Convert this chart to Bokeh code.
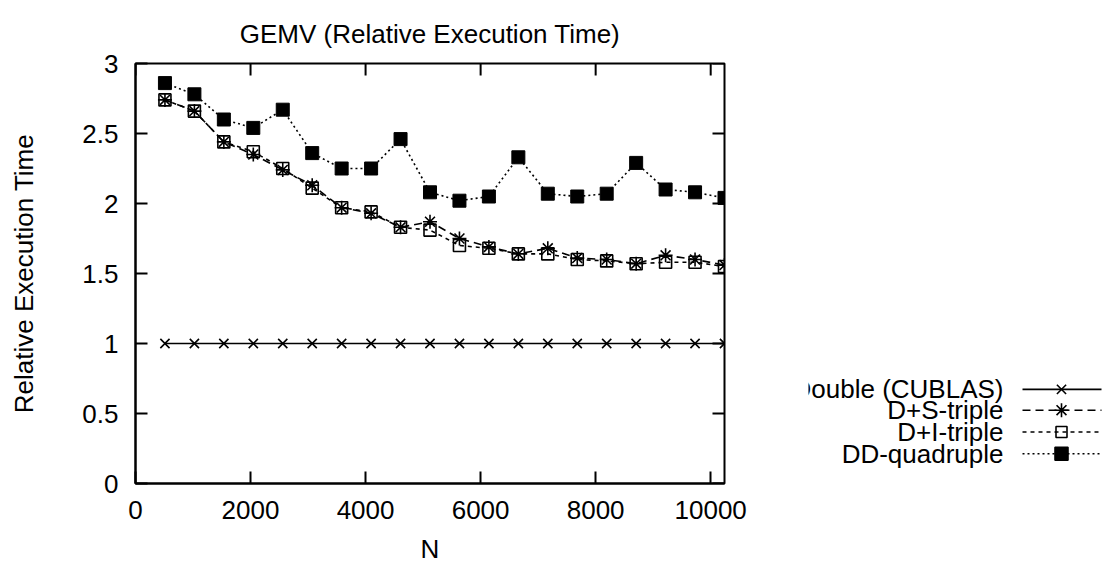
import math
from bokeh.plotting import figure
from bokeh.layouts import row
from bokeh.models import Range1d, FixedTicker, ColumnDataSource
from bokeh.core.properties import value
from bokeh.embed import file_html
from bokeh.resources import INLINE

# ---------------- data ----------------
N = [512 * k for k in range(1, 21)]
double_cublas = [1.0] * 20
ds_triple = [2.74, 2.66, 2.44, 2.35, 2.24, 2.13, 1.97, 1.93, 1.83, 1.87,
             1.75, 1.69, 1.64, 1.68, 1.61, 1.60, 1.57, 1.63, 1.60, 1.56]
di_triple = [2.74, 2.66, 2.44, 2.37, 2.25, 2.11, 1.97, 1.94, 1.83, 1.81,
             1.70, 1.68, 1.64, 1.64, 1.60, 1.59, 1.57, 1.58, 1.58, 1.55]
dd_quad = [2.86, 2.78, 2.60, 2.54, 2.67, 2.36, 2.25, 2.25, 2.46, 2.08,
           2.02, 2.05, 2.33, 2.07, 2.05, 2.07, 2.29, 2.10, 2.08, 2.04]
series_names = ["Double (CUBLAS)", "D+S-triple", "D+I-triple", "DD-quadruple"]
x_ticks = [0, 2000, 4000, 6000, 8000, 10000]
y_ticks = [0, 0.5, 1, 1.5, 2, 2.5, 3]
X_MAX = 10240
Y_MAX = 3

FONT = "Liberation Sans"
FS = "26px"
H = 566
W1 = 808
W2 = 296
FR_L, FR_R, FR_T, FR_B = 135, 724, 63, 487

p = figure(width=W1, height=H, output_backend="svg", toolbar_location=None,
           x_range=Range1d(0, X_MAX), y_range=Range1d(0, Y_MAX),
           min_border_left=FR_L, min_border_right=W1 - FR_R,
           min_border_top=FR_T, min_border_bottom=H - FR_B)
p.background_fill_color = "white"
p.border_fill_color = "white"
p.outline_line_color = "black"
p.outline_line_width = 2
p.grid.visible = False

p.title.text = "GEMV (Relative Execution Time)"
p.title.align = "center"
p.title.text_font = FONT
p.title.text_font_size = FS
p.title.text_font_style = "normal"
p.title.text_color = "black"
p.title.standoff = 30

for ax in [p.xaxis[0], p.yaxis[0]]:
    ax.major_label_text_font = FONT
    ax.major_label_text_font_size = FS
    ax.major_label_text_color = "black"
    ax.axis_label_text_font = FONT
    ax.axis_label_text_font_size = FS
    ax.axis_label_text_font_style = "normal"
    ax.axis_label_text_color = "black"
    ax.major_tick_in = 12
    ax.major_tick_out = 0
    ax.minor_tick_in = 0
    ax.minor_tick_out = 0
    ax.axis_line_width = 2
    ax.major_tick_line_width = 2
    ax.major_tick_line_color = "black"
    ax.axis_line_color = "black"

p.xaxis[0].ticker = FixedTicker(ticks=x_ticks)
p.yaxis[0].ticker = FixedTicker(ticks=y_ticks)
p.xaxis[0].axis_label = "N"
p.yaxis[0].axis_label = "Relative Execution Time"
p.xaxis[0].major_label_standoff = 17
p.yaxis[0].major_label_standoff = 17
p.xaxis[0].axis_label_standoff = 12
p.yaxis[0].axis_label_standoff = 40

# mirrored inward ticks on top / right (dash markers clipped by the frame)
p.scatter(x=x_ticks, y=[Y_MAX] * len(x_ticks), marker="dash", size=24,
          angle=math.pi / 2, line_color="black", line_width=2)
p.scatter(x=[X_MAX] * len(y_ticks), y=y_ticks, marker="dash", size=24,
          line_color="black", line_width=2)

src = ColumnDataSource(dict(N=N, d=double_cublas, ds=ds_triple, di=di_triple, dd=dd_quad))

p.line("N", "d", source=src, line_color="black", line_width=1.6)
p.scatter("N", "d", source=src, marker="x", size=13, line_color="black", line_width=1.6)

p.line("N", "ds", source=src, line_color="black", line_width=1.6, line_dash="8 5")
p.scatter("N", "ds", source=src, marker="asterisk", size=14, line_color="black", line_width=1.6)

p.line("N", "di", source=src, line_color="black", line_width=1.6, line_dash="4 4")
p.scatter("N", "di", source=src, marker="square", size=12, line_color="black",
          fill_color=None, line_width=1.6)

p.line("N", "dd", source=src, line_color="black", line_width=1.6, line_dash="2 3")
p.scatter("N", "dd", source=src, marker="square", size=13, line_color="black",
          fill_color="black", line_width=1)

# ---------------- legend (gnuplot style: text left, sample right) ----------------
leg = figure(width=W2, height=H, output_backend="svg", toolbar_location=None,
             title=None,
             x_range=Range1d(W1, W1 + W2), y_range=Range1d(FR_B, FR_T),
             x_axis_location=None, y_axis_location=None,
             min_border=0)
leg.outline_line_color = None
leg.grid.visible = False
leg.background_fill_color = "white"
leg.border_fill_color = "white"

rows_y = [392, 413, 435, 457]
text_x = 1003
line_x0, line_x1 = 1022, 1101
mid = 1061
dashes = ["solid", "8 5", "4 4", "2 3"]
markers = [("x", None, 13), ("asterisk", None, 14), ("square", None, 11), ("square", "black", 13)]
leg.text(x=[text_x] * 4, y=rows_y, text=series_names, text_font=value(FONT),
         text_font_size=FS, text_align="right", text_baseline="middle", text_color="black")
for yy, dsh, (mk, fc, sz) in zip(rows_y, dashes, markers):
    leg.line([line_x0, line_x1], [yy, yy], line_color="black", line_width=1.6, line_dash=dsh)
    leg.scatter([mid], [yy], marker=mk, size=sz, line_color="black", fill_color=fc,
                line_width=1.6)

layout = row(p, leg)
open("out.html", "w").write(file_html(layout, INLINE))
